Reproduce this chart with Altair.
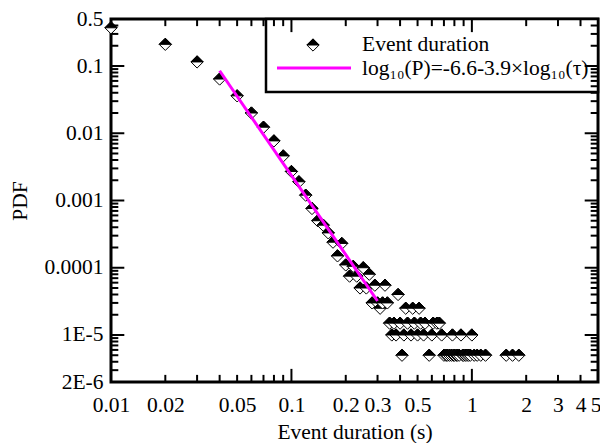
import altair as alt
import pandas as pd

# ---------------- data ----------------
tau = [0.01, 0.02, 0.03, 0.04, 0.05, 0.06, 0.07, 0.08, 0.09, 0.10,
       0.11, 0.12, 0.13, 0.14, 0.15, 0.16, 0.17, 0.18, 0.19, 0.20,
       0.21, 0.22, 0.23, 0.24, 0.25, 0.26, 0.27, 0.28, 0.29, 0.30,
       0.31, 0.32, 0.33, 0.34, 0.35, 0.36, 0.37, 0.38, 0.39, 0.40,
       0.41, 0.42, 0.43, 0.44, 0.46, 0.47, 0.48, 0.50, 0.51, 0.52,
       0.54, 0.55, 0.58, 0.60, 0.61, 0.64, 0.66, 0.68, 0.70, 0.72,
       0.73, 0.75, 0.77, 0.78, 0.79, 0.80, 0.82, 0.83, 0.85, 0.87,
       0.89, 0.90, 0.92, 0.94, 0.96, 0.98, 1.00, 1.03, 1.07, 1.12,
       1.19, 1.55, 1.68, 1.82]
pdf = [0.37, 0.21, 0.115, 0.064, 0.036, 0.020, 0.0123, 0.0077, 0.0046, 0.0027,
       0.0019, 0.0012, 0.00076, 0.0005, 0.00043, 0.00033, 0.00024, 0.00015, 0.00023, 0.00011,
       7.5e-5, 1.05e-4, 7.5e-5, 5e-5, 1e-4, 5e-5, 8e-5, 3e-5, 5.5e-5, 3e-5,
       2.5e-5, 3e-5, 5.5e-5, 3e-5, 1.5e-5, 1e-5, 1.5e-5, 1e-5, 4e-5, 1.5e-5,
       5e-6, 1e-5, 2.5e-5, 1.5e-5, 1e-5, 2.5e-5, 1.5e-5, 1e-5, 2.5e-5, 1.5e-5,
       1e-5, 1.5e-5, 5e-6, 1e-5, 1.5e-5, 1.5e-5, 1.5e-5, 1e-5, 5e-6, 5e-6,
       5e-6, 5e-6, 5e-6, 1e-5, 5e-6, 5e-6, 5e-6, 5e-6, 5e-6, 1e-5,
       5e-6, 5e-6, 5e-6, 5e-6, 5e-6, 5e-6, 1e-5, 5e-6, 5e-6, 5e-6,
       5e-6, 5e-6, 5e-6, 5e-6]

fit_tau = [0.04, 0.30]
fit_pdf = [0.085, 3.2e-5]

x_domain = [0.01, 5]
y_domain = [2e-6, 0.5]

x_label_values = [0.01, 0.02, 0.05, 0.1, 0.2, 0.3, 0.5, 1, 2, 3, 4, 5]
x_label_texts = ["0.01", "0.02", "0.05", "0.1", "0.2", "0.3", "0.5", "1", "2", "3", "4", "5"]
x_major = [0.1, 1]
x_minor = [0.02, 0.03, 0.04, 0.05, 0.06, 0.07, 0.08, 0.09,
           0.2, 0.3, 0.4, 0.5, 0.6, 0.7, 0.8, 0.9, 2, 3, 4]

y_label_values = [0.5, 0.1, 0.01, 0.001, 0.0001, 1e-5, 2e-6]
y_label_texts = ["0.5", "0.1", "0.01", "0.001", "0.0001", "1E-5", "2E-6"]
y_major = [1e-5, 1e-4, 1e-3, 1e-2, 1e-1]
y_minor = [3e-6, 4e-6, 5e-6, 6e-6, 7e-6, 8e-6, 9e-6,
           2e-5, 3e-5, 4e-5, 5e-5, 6e-5, 7e-5, 8e-5, 9e-5,
           2e-4, 3e-4, 4e-4, 5e-4, 6e-4, 7e-4, 8e-4, 9e-4,
           2e-3, 3e-3, 4e-3, 5e-3, 6e-3, 7e-3, 8e-3, 9e-3,
           2e-2, 3e-2, 4e-2, 5e-2, 6e-2, 7e-2, 8e-2, 9e-2,
           0.2, 0.3, 0.4]

legend_labels = ["Event duration", "log\u2081\u2080(P)=-6.6-3.9\u00d7log\u2081\u2080(\u03c4)"]
x_title = "Event duration (s)"
y_title = "PDF"

# ---------------- styling ----------------
FONT = "Liberation Serif"
FS = 21.5
W, H = 487, 363
MAGENTA = "#FF00FF"
DIAMOND = "M0,-1L1,0L0,1L-1,0Z"
TOP_HALF = "M-1,0L0,-1L1,0Z"
MSIZE = 150
TICK_SYMBOL_SIZE = 400          # symbol scale = sqrt(400)/2 = 10 px per path unit
MAJ_UNITS, MIN_UNITS = 1.3, 0.7  # 13 px and 7 px ticks
EDGE_IN = 1.004


def label_expr(values, texts):
    s = ""
    for v, t in zip(values, texts):
        s += f"datum.value == {v!r} ? '{t}' : "
    return s + "''"


xs = alt.Scale(type="log", domain=x_domain, nice=False)
ys = alt.Scale(type="log", domain=y_domain, nice=False)

rows = []
for t, p in zip(tau, pdf):
    rows.append({"tau": t, "pdf": p, "part": "lower"})
    rows.append({"tau": t, "pdf": p, "part": "upper"})
pts_df = pd.DataFrame(rows)
fit_df = pd.DataFrame({"tau": fit_tau, "pdf": fit_pdf})

shape_enc = alt.Shape("part:N", scale=alt.Scale(domain=["lower", "upper"], range=[DIAMOND, TOP_HALF]), legend=None)
fill_enc = alt.Fill("part:N", scale=alt.Scale(domain=["lower", "upper"], range=["white", "black"]), legend=None)

label_axis_x = alt.Axis(values=x_label_values, labelExpr=label_expr(x_label_values, x_label_texts),
                        ticks=False, tickSize=0, domain=False, grid=False, labelPadding=12,
                        labelAlign=alt.condition("datum.value == 5", alt.value("right"), alt.value("center")),
                        labelOffset=alt.condition("datum.value == 5", alt.value(3), alt.value(0)),
                        labelOverlap=False, labelFlush=False, labelBound=False,
                        title=x_title, titlePadding=6)
label_axis_y = alt.Axis(values=y_label_values, labelExpr=label_expr(y_label_values, y_label_texts),
                        ticks=False, tickSize=0, domain=False, grid=False, labelPadding=8,
                        labelOverlap=False, labelFlush=False, title=y_title, titlePadding=12)


def tick_path(direction, units):
    u = f"{units}"
    return {"up": f"M0,0L0,-{u}", "down": f"M0,0L0,{u}",
            "right": f"M0,0L{u},0", "left": f"M0,0L-{u},0"}[direction]


# inward tick marks: short stroked paths placed along the frame through the shared log scales
def tick_layer(xv, yv, units, direction):
    df = pd.DataFrame({"tau": xv, "pdf": yv})
    return alt.Chart(df).mark_point(
        shape=tick_path(direction, units), size=TICK_SYMBOL_SIZE, filled=False,
        stroke="#000000", strokeWidth=2, opacity=1
    ).encode(x=alt.X("tau:Q", scale=xs, axis=None), y=alt.Y("pdf:Q", scale=ys, axis=None))


ybot, ytop = y_domain[0] * EDGE_IN, y_domain[1] / EDGE_IN
xlft, xrgt = x_domain[0] * EDGE_IN, x_domain[1] / EDGE_IN
tick_layers = [
    tick_layer(x_minor, [ybot] * len(x_minor), MIN_UNITS, "up"),
    tick_layer(x_major, [ybot] * len(x_major), MAJ_UNITS, "up"),
    tick_layer(x_minor, [ytop] * len(x_minor), MIN_UNITS, "down"),
    tick_layer(x_major, [ytop] * len(x_major), MAJ_UNITS, "down"),
    tick_layer([xlft] * len(y_minor), y_minor, MIN_UNITS, "right"),
    tick_layer([xlft] * len(y_major), y_major, MAJ_UNITS, "right"),
    tick_layer([xrgt] * len(y_minor), y_minor, MIN_UNITS, "left"),
    tick_layer([xrgt] * len(y_major), y_major, MAJ_UNITS, "left"),
]

points = alt.Chart(pts_df).mark_point(filled=True, size=MSIZE, stroke="black", strokeWidth=1, opacity=1).encode(
    x=alt.X("tau:Q", scale=xs, axis=label_axis_x),
    y=alt.Y("pdf:Q", scale=ys, axis=label_axis_y),
    shape=shape_enc,
    fill=fill_enc,
)

fit_line = alt.Chart(fit_df).mark_line(color=MAGENTA, strokeWidth=3).encode(
    x=alt.X("tau:Q", scale=xs, axis=None),
    y=alt.Y("pdf:Q", scale=ys, axis=None),
)

one = pd.DataFrame({"k": [0]})
two = pd.DataFrame({"part": ["lower", "upper"]})

leg_box = alt.Chart(one).mark_rect(fill="white", stroke="black", strokeWidth=2.5).encode(
    x=alt.value(155), x2=alt.value(W), y=alt.value(0), y2=alt.value(73))
leg_sym = alt.Chart(two).mark_point(filled=True, size=MSIZE, stroke="black", strokeWidth=1, opacity=1).encode(
    x=alt.value(202), y=alt.value(26), shape=shape_enc, fill=fill_enc)
leg_line = alt.Chart(one).mark_rule(color=MAGENTA, strokeWidth=3).encode(
    x=alt.value(166), x2=alt.value(240), y=alt.value(49))
leg_t1 = alt.Chart(one).mark_text(text=legend_labels[0], align="left", baseline="middle",
                                  font=FONT, fontSize=FS, color="black").encode(x=alt.value(251), y=alt.value(26))
leg_t2 = alt.Chart(one).mark_text(text=legend_labels[1], align="left", baseline="middle",
                                  font=FONT, fontSize=FS, color="black").encode(x=alt.value(251), y=alt.value(50))

chart = alt.layer(points, fit_line, leg_box, leg_sym, leg_line, leg_t1, leg_t2, *tick_layers).resolve_axis(
    x="independent", y="independent"
).properties(
    width=W, height=H,
    autosize=alt.AutoSizeParams(type="none"),
    padding={"left": 103, "top": 11, "right": 2, "bottom": 61},
).configure_view(
    stroke="black", strokeWidth=3
).configure_axis(
    labelFont=FONT, titleFont=FONT, labelFontSize=FS, titleFontSize=FS,
    labelColor="black", titleColor="black", titleFontWeight="normal"
)

chart.save("out.html", embed_options={"renderer": "svg", "actions": False})
